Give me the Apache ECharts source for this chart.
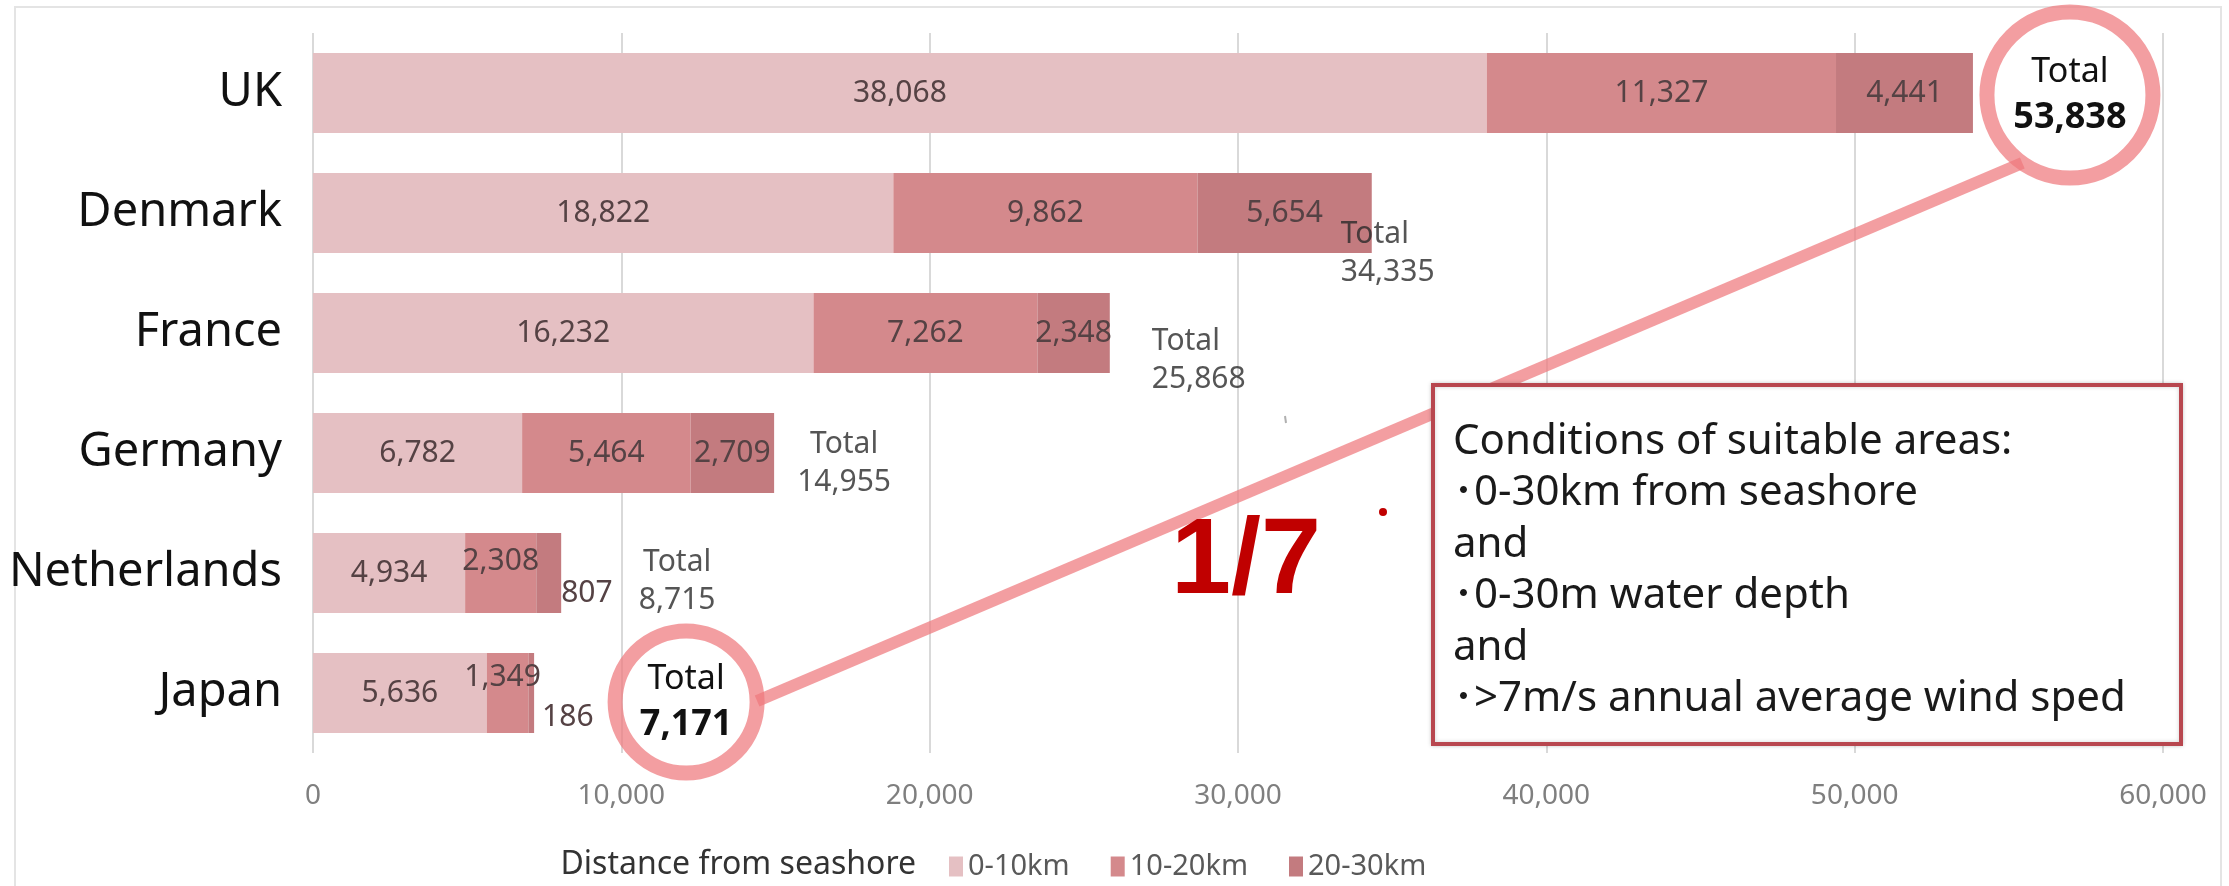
<!DOCTYPE html>
<html>
<head>
<meta charset="utf-8">
<script src="https://cdn.jsdelivr.net/npm/echarts@6/dist/echarts.min.js"></script>
<style>
  html, body { margin: 0; padding: 0; background: #ffffff; }
  #chart { width: 2229px; height: 886px; }
</style>
</head>
<body>
<div id="chart"></div>
<script>
// Offshore wind suitable area by distance from seashore (km2)
const countries = ['UK', 'Denmark', 'France', 'Germany', 'Netherlands', 'Japan'];
const band0to10 = [38068, 18822, 16232, 6782, 4934, 5636];
const band10to20 = [11327, 9862, 7262, 5464, 2308, 1349];
const band20to30 = [4441, 5654, 2348, 2709, 807, 186];
const totals = [53838, 34335, 25868, 14955, 8715, 7171];
const bandNames = ['0-10km', '10-20km', '20-30km'];
const xTicks = [0, 10000, 20000, 30000, 40000, 50000, 60000];
const legendTitle = 'Distance from seashore';
const ratioText = '1/7';
const conditions = [
  'Conditions of suitable areas:',
  '･0-30km from seashore',
  'and',
  '･0-30m water depth',
  'and',
  '･>7m/s annual average wind sped'
];

const FONT = '"Noto Sans", "Noto Sans CJK JP", sans-serif';
const bandColors = ['#e5c0c3', '#d4898c', '#c37b7f'];
const fmt = v => v.toLocaleString('en-US');

// label placement tweaks for narrow segments
const segLabelTweaks = {
  '4|1': { offset: [0, -12] },
  '4|2': { position: 'right', distance: 0, offset: [0, 20] },
  '5|1': { offset: [-5, -16] },
  '5|2': { position: 'right', distance: 8, offset: [0, 24] }
};

// placement of the "Total" callouts relative to the end of each stacked bar
const totalCallouts = [
  { circle: 166, offset: [97, 2] },
  { align: 'left', offset: [-31, 40] },
  { align: 'left', offset: [42, 27] },
  { align: 'center', offset: [70, 10] },
  { align: 'center', offset: [116, 8] },
  { circle: 142, offset: [152, 9] }
];

const bands = [band0to10, band10to20, band20to30];
const stackEnds = countries.map((_, i) => band0to10[i] + band10to20[i] + band20to30[i]);

const ringColor = 'rgba(238, 120, 125, 0.72)';

const barSeries = bands.map((vals, b) => ({
  name: bandNames[b],
  type: 'bar',
  stack: 'area',
  barCategoryGap: '33.3%',
  itemStyle: { color: bandColors[b] },
  label: {
    show: true,
    position: 'inside',
    fontFamily: FONT,
    fontSize: 30,
    color: '#554244',
    formatter: p => fmt(p.value)
  },
  data: vals.map((v, i) => {
    const t = segLabelTweaks[i + '|' + b];
    return t ? { value: v, label: t } : v;
  })
}));

const totalSeries = {
  type: 'scatter',
  z: 5,
  silent: true,
  data: countries.map((c, i) => {
    const cfg = totalCallouts[i];
    if (cfg.circle) {
      return {
        value: [stackEnds[i], c],
        symbol: 'circle',
        symbolSize: cfg.circle,
        symbolOffset: cfg.offset,
        itemStyle: { color: 'rgba(255,255,255,0)', borderColor: ringColor, borderWidth: 15, opacity: 1 },
        label: {
          show: true,
          position: 'inside',
          color: '#111111',
          formatter: '{t|Total}\n{b|' + fmt(totals[i]) + '}',
          rich: {
            t: { fontFamily: FONT, fontSize: 34, color: '#111111', lineHeight: 45 },
            b: { fontFamily: FONT, fontSize: 36, fontWeight: 'bold', color: '#111111', lineHeight: 45 }
          }
        }
      };
    }
    return {
      value: [stackEnds[i], c],
      symbol: 'circle',
      symbolSize: 1,
      itemStyle: { color: 'rgba(255,255,255,0)' },
      label: {
        show: true,
        position: 'inside',
        align: cfg.align,
        offset: cfg.offset,
        fontFamily: FONT,
        fontSize: 30,
        lineHeight: 38,
        color: '#2b2b2b',
        formatter: 'Total\n' + fmt(totals[i])
      }
    };
  })
};

const chart = echarts.init(document.getElementById('chart'), null, { renderer: 'canvas' });

chart.setOption({
  animation: false,
  backgroundColor: '#ffffff',
  grid: { left: 313, right: 66, top: 33, bottom: 133 },
  xAxis: {
    type: 'value',
    min: xTicks[0],
    max: xTicks[xTicks.length - 1],
    interval: xTicks[1] - xTicks[0],
    axisLine: { show: false },
    axisTick: { show: false },
    splitLine: { show: true, lineStyle: { color: '#d9d9d9', width: 2 } },
    axisLabel: {
      margin: 29,
      fontFamily: FONT,
      fontSize: 28,
      color: '#7f7f7f',
      formatter: v => fmt(v)
    }
  },
  yAxis: {
    type: 'category',
    inverse: true,
    data: countries,
    axisLine: { show: false },
    axisTick: { show: false },
    axisLabel: { margin: 31, fontFamily: FONT, fontSize: 47, color: '#111111' }
  },
  legend: {
    data: bandNames,
    left: 944,
    top: 847,
    icon: 'rect',
    itemWidth: 14,
    itemHeight: 20,
    itemGap: 41,
    selectedMode: false,
    textStyle: { fontFamily: FONT, fontSize: 29, color: '#595959' }
  },
  series: [...barSeries, totalSeries]
});

// annotations: ring connector, ratio, condition box
const jp = chart.convertToPixel({ gridIndex: 0 }, [stackEnds[5], countries[5]]);
const uk = chart.convertToPixel({ gridIndex: 0 }, [stackEnds[0], countries[0]]);
const jc = [jp[0] + totalCallouts[5].offset[0], jp[1] + totalCallouts[5].offset[1]];
const uc = [uk[0] + totalCallouts[0].offset[0], uk[1] + totalCallouts[0].offset[1]];
const rJ = totalCallouts[5].circle / 2;
const rU = totalCallouts[0].circle / 2;
const aU = 125 * Math.PI / 180;

chart.setOption({
  graphic: [
    {
      type: 'rect', z: -10, silent: true,
      shape: { x: 15, y: 7, width: 2206, height: 900 },
      style: { fill: 'none', stroke: '#e4e4e4', lineWidth: 2 }
    },
    {
      type: 'line', z: 4, silent: true,
      shape: { x1: jc[0] + rJ, y1: jc[1] - 1, x2: uc[0] + rU * Math.cos(aU), y2: uc[1] + rU * Math.sin(aU) },
      style: { stroke: ringColor, lineWidth: 12 }
    },
    {
      type: 'text', z: 6, silent: true,
      x: 1246, y: 563,
      style: {
        text: ratioText,
        fontFamily: '"Liberation Sans", Arial, sans-serif',
        fontSize: 108,
        fontWeight: 'bold',
        fill: '#c00000',
        align: 'center',
        verticalAlign: 'middle',
        shadowBlur: 8,
        shadowColor: 'rgba(255, 90, 90, 0.55)'
      }
    },
    {
      type: 'circle', z: 6, silent: true,
      shape: { cx: 1383, cy: 512, r: 4 },
      style: { fill: '#c00000' }
    },
    {
      type: 'line', z: 6, silent: true,
      shape: { x1: 1285, y1: 416, x2: 1286, y2: 423 },
      style: { stroke: '#b0b0b0', lineWidth: 2 }
    },
    {
      type: 'rect', z: 6, silent: true,
      shape: { x: 1433, y: 385, width: 748, height: 359 },
      style: { fill: '#ffffff', stroke: '#b8474f', lineWidth: 4, shadowBlur: 4, shadowColor: 'rgba(0,0,0,0.18)' }
    },
    {
      type: 'text', z: 7, silent: true,
      x: 1453, y: 416,
      style: {
        text: conditions.join('\n'),
        fontFamily: FONT,
        fontSize: 42,
        lineHeight: 51.5,
        fill: '#1a1a1a',
        align: 'left',
        verticalAlign: 'top'
      }
    },
    {
      type: 'text', z: 6, silent: true,
      x: 916, y: 865,
      style: {
        text: legendTitle,
        fontFamily: FONT,
        fontSize: 32,
        fill: '#333333',
        align: 'right',
        verticalAlign: 'middle'
      }
    }
  ]
});
</script>
</body>
</html>
